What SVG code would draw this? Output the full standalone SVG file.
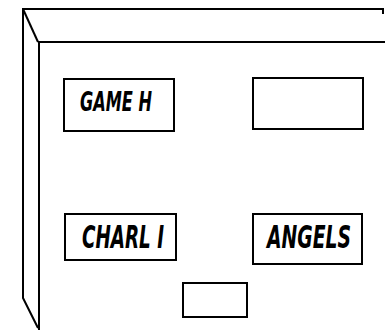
<svg xmlns="http://www.w3.org/2000/svg" width="385" height="330" viewBox="0 0 385 330">
<style>
.ln{fill:none;stroke:#000;stroke-width:2;stroke-linejoin:miter}
.bx{fill:#fff;stroke:#000;stroke-width:2}
.lcd{font-family:"DejaVu Sans Condensed","DejaVu Sans",sans-serif;font-style:italic;font-weight:bold;fill:#000}
</style>
<rect width="385" height="330" fill="#fff"/>
<g id="frame">
<path class="ln" d="M383,14 L383,9 L23,9 L23,298 L38,328"/>
<path class="ln" d="M23,9 L38,42"/>
<path class="ln" d="M385,42 L39,42 L39,330"/>
</g>
<g id="game-h">
<rect class="bx" x="64" y="79" width="110" height="52"/>
<text class="lcd" transform="translate(80,111) scale(1,1.15)" font-size="23" textLength="72" lengthAdjust="spacingAndGlyphs">GAME H</text>
</g>
<g id="blank-top">
<rect class="bx" x="253" y="78" width="110" height="51"/>
</g>
<g id="charli">
<rect class="bx" x="65" y="214" width="111" height="46"/>
<text class="lcd" transform="translate(82,248) scale(1,1.15)" font-size="27" textLength="82" lengthAdjust="spacingAndGlyphs">CHARL I</text>
</g>
<g id="angels">
<rect class="bx" x="253" y="214" width="109" height="50"/>
<text class="lcd" transform="translate(267,248) scale(1,1.15)" font-size="27" textLength="84" lengthAdjust="spacingAndGlyphs">ANGELS</text>
</g>
<g id="blank-bottom">
<rect class="bx" x="183" y="283" width="64" height="34"/>
</g>
</svg>
